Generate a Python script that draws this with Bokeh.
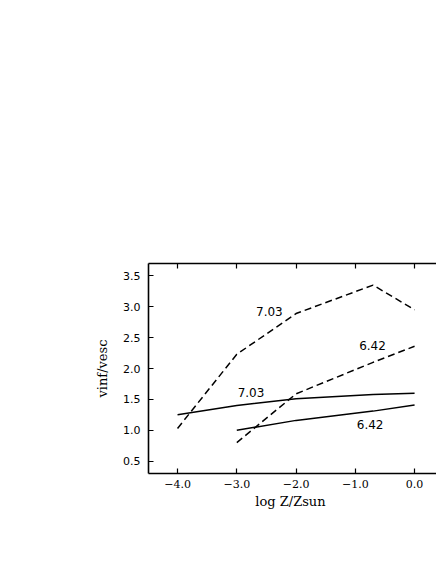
from bokeh.plotting import figure
from bokeh.models import LinearAxis, FixedTicker, Range1d, Label
from bokeh.embed import file_html
from bokeh.resources import INLINE

# Data
z_703 = [-4.0, -3.0, -2.0, -0.7, 0.0]
dash_703 = [1.03, 2.23, 2.89, 3.35, 2.95]
solid_703 = [1.25, 1.40, 1.51, 1.58, 1.60]

z_642 = [-3.0, -2.0, -0.7, 0.0]
dash_642 = [0.80, 1.59, 2.10, 2.36]
solid_642 = [1.00, 1.16, 1.31, 1.41]

x_ticks = [-4.0, -3.0, -2.0, -1.0, 0.0]
x_tick_labels = ["\u22124.0", "\u22123.0", "\u22122.0", "\u22121.0", "0.0"]
y_ticks = [0.5, 1.0, 1.5, 2.0, 2.5, 3.0, 3.5]
y_tick_labels = ["0.5", "1.0", "1.5", "2.0", "2.5", "3.0", "3.5"]

labels = [
    ("7.03", -2.45, 2.92),
    ("6.42", -0.71, 2.37),
    ("7.03", -2.76, 1.61),
    ("6.42", -0.75, 1.10),
]

p = figure(width=436, height=556, output_backend="svg", toolbar_location=None,
           x_range=Range1d(-4.49, 0.37), y_range=Range1d(0.3, 3.7),
           x_axis_location=None, y_axis_location=None,
           min_border_left=148, min_border_top=263, min_border_right=0,
           min_border_bottom=83)
p.grid.visible = False
p.outline_line_color = None
p.background_fill_color = "white"
p.border_fill_color = "white"

def style(ax, ticks, overrides, font, size):
    ax.ticker = FixedTicker(ticks=ticks)
    ax.major_label_overrides = overrides
    ax.major_tick_in = 5
    ax.major_tick_out = 0
    ax.minor_tick_line_color = None
    ax.axis_line_width = 1.6
    ax.major_tick_line_width = 1.2
    ax.major_label_text_font = font
    ax.major_label_text_font_size = size
    ax.major_label_text_color = "black"
    ax.axis_label_text_font = "DejaVu Serif"
    ax.axis_label_text_font_style = "normal"
    ax.axis_label_text_font_size = "13px"
    ax.axis_label_text_color = "black"

xb = LinearAxis(axis_label="log  Z/Zsun")
style(xb, x_ticks, {t: l for t, l in zip(x_ticks, x_tick_labels)}, "DejaVu Serif", "11px")
xb.major_label_standoff = 6
xb.axis_label_standoff = 3
p.add_layout(xb, "below")

xt = LinearAxis()
style(xt, x_ticks, {t: "" for t in x_ticks}, "DejaVu Serif", "10px")
xt.major_label_text_alpha = 0
p.add_layout(xt, "above")

yl = LinearAxis(axis_label="vinf/vesc")
style(yl, y_ticks, {t: l for t, l in zip(y_ticks, y_tick_labels)}, "DejaVu Sans", "11px")
yl.major_label_standoff = 8
yl.axis_label_standoff = 10
p.add_layout(yl, "left")

p.line(z_703, dash_703, line_color="black", line_width=1.5, line_dash="7 4")
p.line(z_642, dash_642, line_color="black", line_width=1.5, line_dash="7 4")
p.line(z_703, solid_703, line_color="black", line_width=1.5)
p.line(z_642, solid_642, line_color="black", line_width=1.5)

for txt, x, y in labels:
    p.add_layout(Label(x=x, y=y, text=txt, text_font="DejaVu Sans",
                       text_font_size="12px", text_align="center",
                       text_baseline="middle", text_color="black"))

open("out.html", "w").write(file_html(p, INLINE))
